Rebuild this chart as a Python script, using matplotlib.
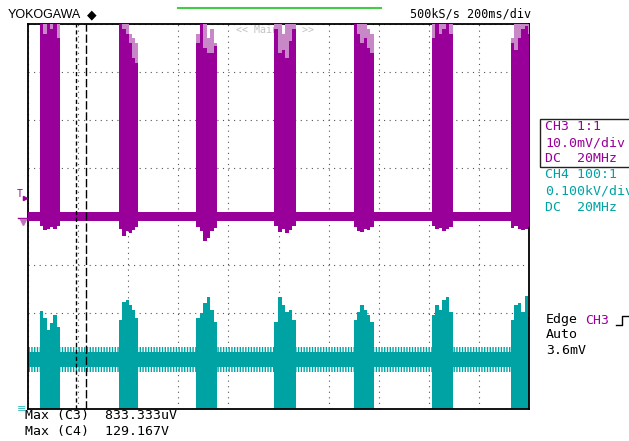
import numpy as np
import matplotlib.pyplot as plt
from matplotlib.lines import Line2D
from matplotlib.patches import Rectangle

W, H = 629, 441
PURPLE = '#990099'
PINK = '#c888c8'
TEAL = '#00a3a3'
MONO = 'DejaVu Sans Mono'

# time base 200 ms/div, 10 div across
burst_start = [48, 364, 672, 984, 1300, 1612, 1928]   # ms
burst_end = [128, 440, 756, 1068, 1380, 1696, 2010]

# CH3 in mV (10 mV/div, ground at centre line)
ch3_floor = -1.0
ch3_max = 0.833
ch3_dark = [[41, 38, 41, 39, 41, 37],
            [41, 39, 38, 36, 33, 32],
            [36, 40, 35, 34, 34, 35.5],
            [39, 34, 34.5, 33, 36.5, 39],
            [40, 38, 36, 37, 35, 34],
            [37, 40, 38, 39, 41, 38],
            [36, 34.5, 37, 39, 39.5, 38]]
ch3_light = [[41, 41, 41, 41, 41, 41],
             [41, 41, 40, 38, 37, 36],
             [38, 41, 41, 37, 39, 36],
             [41, 41, 38, 41, 41, 41],
             [41, 41, 41, 40, 39, 38],
             [41, 41, 41, 41, 41, 41],
             [37, 40, 41, 41, 41, 41]]
ch3_low = [[-2.0, -2.9, -2.5, -2.2, -2.7, -2.0],
           [-2.5, -4.0, -3.0, -3.5, -2.8, -2.2],
           [-2.2, -3.0, -5.0, -4.5, -3.0, -2.4],
           [-2.0, -3.2, -2.6, -3.4, -2.8, -2.0],
           [-2.2, -3.0, -3.3, -2.5, -2.9, -2.1],
           [-2.0, -2.7, -2.4, -3.0, -2.6, -2.2],
           [-2.3, -2.0, -2.6, -2.8, -2.5, -2.2]]

# CH4 in V (100 V/div, ground at bottom line)
ch4_core = [88, 119]
ch4_fringe = [77, 129]
ch4_peak = [[204, 190, 165, 179, 196, 171],
            [185, 223, 227, 217, 206, 190],
            [190, 200, 221, 233, 206, 181],
            [181, 233, 217, 202, 206, 185],
            [185, 202, 217, 206, 196, 181],
            [196, 217, 206, 227, 233, 202],
            [185, 217, 221, 202, 235, 192]]

cursors = [192, 232]  # ms


def c3(v):
    return np.asarray(v, dtype=float) / 10.0


def c4(v):
    return np.asarray(v, dtype=float) / 100.0 - 4


def px(x, y):
    return x / W, 1 - y / H


fig = plt.figure(figsize=(W / 100, H / 100), dpi=100)
fig.patch.set_facecolor('white')
ax = fig.add_axes([28 / W, (H - 409) / H, 501 / W, 385 / H])
ax.set_xlim(0, 2000)
ax.set_ylim(-4, 4)
ax.set_xticks(np.arange(0, 2001, 200))
ax.set_yticks(np.arange(-4, 5, 1))
ax.tick_params(length=0, labelbottom=False, labelleft=False)
ax.grid(color='#555555', linestyle=(0, (1, 4)), linewidth=0.8)
ax.set_axisbelow(True)
for s in ax.spines.values():
    s.set_linewidth(1.3)
    s.set_color('black')

ax.text(275 / W, 1 - 30 / H, '<< Main:1M >>', transform=fig.transFigure,
        family=MONO, fontsize=7.2, color='#c4c4c4', ha='center', va='center', zorder=1)

# CH4 baseline band
span = [0, 2000]
ax.fill_between(span, c4(ch4_core[0]), c4(ch4_core[1]), color=TEAL, lw=0, zorder=2)
ax.fill_between(span, c4(ch4_core[1]), c4(ch4_fringe[1]), facecolor='none',
                edgecolor=TEAL, hatch='||||||', lw=0, zorder=2)
ax.fill_between(span, c4(ch4_fringe[0]), c4(ch4_core[0]), facecolor='none',
                edgecolor=TEAL, hatch='||||||', lw=0, zorder=2)

# CH3 baseline band
ax.fill_between(span, c3(ch3_floor), c3(ch3_max), color=PURPLE, lw=0, zorder=3)

for i in range(len(burst_start)):
    edges = np.linspace(burst_start[i], burst_end[i], len(ch3_dark[i]) + 1)
    ax.stairs(c4(ch4_peak[i]), edges, baseline=-4.5, fill=True, color=TEAL, zorder=2.5)
    ax.stairs(c3(ch3_light[i]), edges, baseline=c3(ch3_low[i]), fill=True, color=PINK, zorder=3)
    ax.stairs(c3(ch3_dark[i]), edges, baseline=c3(ch3_low[i]), fill=True, color=PURPLE, zorder=3.1)

ax.axvline(cursors[0], color='black', lw=1, linestyle=(0, (3, 2)), zorder=5)
ax.axvline(cursors[1], color='black', lw=1, linestyle=(0, (6, 2)), zorder=5)

# header
fig.text(*px(8, 15), 'YOKOGAWA', family='Liberation Sans', fontsize=9, ha='left', va='center')
fig.text(*px(92, 15), '\u25c6', family='DejaVu Sans', fontsize=9, ha='center', va='center')
fig.text(*px(531, 14), '500kS/s 200ms/div', family=MONO, fontsize=8.5, ha='right', va='center')
fig.add_artist(Line2D([178 / W, 381 / W], [1 - 8 / H, 1 - 8 / H], color='#44cc44', lw=1.5))

# channel info
fig.add_artist(Rectangle(px(540, 167), 95 / W, 48 / H, fill=False, ec='#222222', lw=1))
for y, t in [(127, 'CH3 1:1'), (143, '10.0mV/div'), (159, 'DC  20MHz')]:
    fig.text(*px(545, y), t, family=MONO, fontsize=9.5, color=PURPLE, ha='left', va='center')
for y, t in [(175, 'CH4 100:1'), (191, '0.100kV/div'), (207, 'DC  20MHz')]:
    fig.text(*px(545, y), t, family=MONO, fontsize=9.5, color=TEAL, ha='left', va='center')

# trigger
fig.text(*px(546, 320), 'Edge', family=MONO, fontsize=9.5, ha='left', va='center')
fig.text(*px(585, 320), 'CH3', family=MONO, fontsize=9.5, color=PURPLE, ha='left', va='center')
fig.text(*px(546, 335), 'Auto', family=MONO, fontsize=9.5, ha='left', va='center')
fig.text(*px(546, 350), '3.6mV', family=MONO, fontsize=9.5, ha='left', va='center')
xs = [616 / W, 622 / W, 622 / W, 628 / W]
ys = [1 - 325 / H, 1 - 325 / H, 1 - 316 / H, 1 - 316 / H]
fig.add_artist(Line2D(xs, ys, color='black', lw=1))

# measurements
fig.text(*px(25, 416), 'Max (C3)  833.333uV', family=MONO, fontsize=9.5, ha='left', va='center')
fig.text(*px(25, 432), 'Max (C4)  129.167V', family=MONO, fontsize=9.5, ha='left', va='center')

# left markers
fig.text(*px(20, 194), 'T', family=MONO, fontsize=7, color=PURPLE, ha='center', va='center')
fig.add_artist(Line2D([25 / W], [1 - 198 / H], marker='>', ms=3, color=PURPLE))
fig.add_artist(Line2D([18 / W, 28 / W], [1 - 218 / H, 1 - 218 / H], color=PURPLE, lw=1))
fig.add_artist(Line2D([23 / W], [1 - 222 / H], marker='v', ms=4, color='#c070c0'))
fig.text(*px(22, 409), '\u2261', family='DejaVu Sans', fontsize=8, color='#40c0c0',
         ha='center', va='center')

fig.savefig('out.png', dpi=100)
